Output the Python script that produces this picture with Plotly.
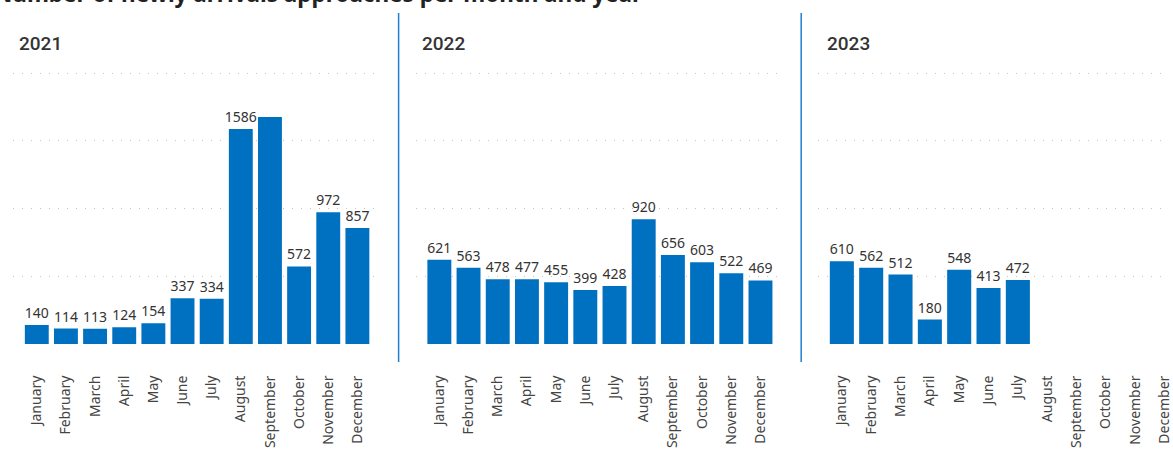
import plotly.graph_objects as go

months = ["January", "February", "March", "April", "May", "June", "July",
          "August", "September", "October", "November", "December"]
years = ["2021", "2022", "2023"]
v2021 = [140, 114, 113, 124, 154, 337, 334, 1586, 1675, 572, 972, 857]
v2022 = [621, 563, 478, 477, 455, 399, 428, 920, 656, 603, 522, 469]
v2023 = [610, 562, 512, 180, 548, 413, 472, None, None, None, None, None]
# the September 2021 label is not shown in the source chart
labels2021 = ["140", "114", "113", "124", "154", "337", "334", "1586", "", "572", "972", "857"]
title = "Number of newly arrivals approaches per month and year"

W, H = 1173, 451
BAR = "#0070C0"
TXT = "#333333"
YMAX = 2060
PXU = (344 - 73) / 2000.0

def px(x):
    return x / W

def py(y):
    return (H - y) / H

series = [v2021, v2022, v2023]
texts = [labels2021,
         [str(v) for v in v2022],
         [str(v) if v is not None else "" for v in v2023]]
xdomains = [[px(13), px(383)], [px(418), px(790)], [px(823), 1.0]]
xranges = [[-0.819, 11.80], [-0.817, 11.85], [-0.81, 11.05]]
title_x = [17, 423, 830]

fig = go.Figure()
for i in range(3):
    sfx = "" if i == 0 else str(i + 1)
    fig.add_trace(go.Bar(
        x=months, y=series[i], text=texts[i],
        textposition="outside", cliponaxis=False, constraintext="none",
        textfont=dict(family="Noto Sans", size=14, color=TXT),
        marker=dict(color=BAR, line=dict(width=0)),
        xaxis="x" + sfx, yaxis="y" + sfx, showlegend=False,
        hoverinfo="x+y",
    ))
    fig.update_layout(**{
        "xaxis" + sfx: dict(
            domain=xdomains[i], range=xranges[i], type="category",
            categoryorder="array", categoryarray=months,
            tickangle=-90, ticks="outside", ticklen=25,
            tickcolor="rgba(0,0,0,0)", showline=False, showgrid=False,
            zeroline=False, anchor="y" + sfx, fixedrange=True,
            tickfont=dict(family="Noto Sans", size=14, color="#444444"),
        ),
        "yaxis" + sfx: dict(
            domain=[py(344), py(344 - YMAX * PXU)], range=[0, YMAX],
            tickvals=[0, 500, 1000, 1500, 2000],
            showticklabels=False, showgrid=True, gridcolor="#c4c4c4",
            gridwidth=1, griddash="1px,8px", zeroline=False,
            anchor="x" + sfx, fixedrange=True,
        ),
    })
    fig.add_annotation(
        text=years[i], x=px(title_x[i]), y=py(43), xref="paper", yref="paper",
        xanchor="left", yanchor="middle", showarrow=False,
        font=dict(family="Roboto", size=19, color=TXT, weight=500),
    )

for xd in [401, 806]:
    fig.add_shape(type="line", xref="paper", yref="paper",
                  x0=px(xd), x1=px(xd), y0=py(13), y1=py(362),
                  line=dict(color="#1f7fd0", width=1.5))

fig.add_annotation(
    text="<b>" + title + "</b>", x=px(648), y=py(11), xref="paper", yref="paper",
    xanchor="right", yanchor="bottom", showarrow=False,
    font=dict(family="Noto Sans", size=22.5, color="#222222"),
)

fig.update_layout(
    width=W, height=H, autosize=False,
    margin=dict(l=0, r=0, t=0, b=0),
    paper_bgcolor="white", plot_bgcolor="white",
    bargap=0.18,
)

fig.write_html("out.html")
